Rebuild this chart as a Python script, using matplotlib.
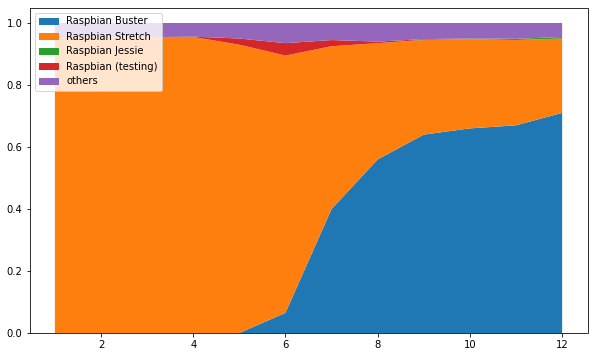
import matplotlib
matplotlib.use("Agg")
import matplotlib.pyplot as plt
import numpy as np

months = list(range(1, 13))
buster = [0, 0, 0, 0, 0, 0.065, 0.40, 0.56, 0.64, 0.66, 0.67, 0.71]
stretch = [0.952, 0.953, 0.954, 0.955, 0.93, 0.83, 0.525, 0.375, 0.305, 0.288, 0.275, 0.24]
jessie = [0, 0, 0, 0, 0, 0, 0, 0, 0.001, 0.002, 0.004, 0.005]
testing = [0, 0, 0, 0.001, 0.02, 0.04, 0.02, 0.005, 0.002, 0, 0, 0]
others = [1 - b - s - j - t for b, s, j, t in zip(buster, stretch, jessie, testing)]

labels = ["Raspbian Buster", "Raspbian Stretch", "Raspbian Jessie", "Raspbian (testing)", "others"]

W, H = 595, 357
fig = plt.figure(figsize=(W / 72, H / 72), dpi=72)
# axes placed in pixel terms
left, right, top, bottom = 29.5, 587.5, 7.5, 333
ax = fig.add_axes([left / W, (H - bottom) / H, (right - left) / W, (bottom - top) / H])
ax.stackplot(months, buster, stretch, jessie, testing, others, labels=labels)
ax.set_xlim(0.45, 12.55)
ax.set_ylim(0, 1.05)
ax.legend(loc="upper left")
fig.savefig("out.png", dpi=72)
